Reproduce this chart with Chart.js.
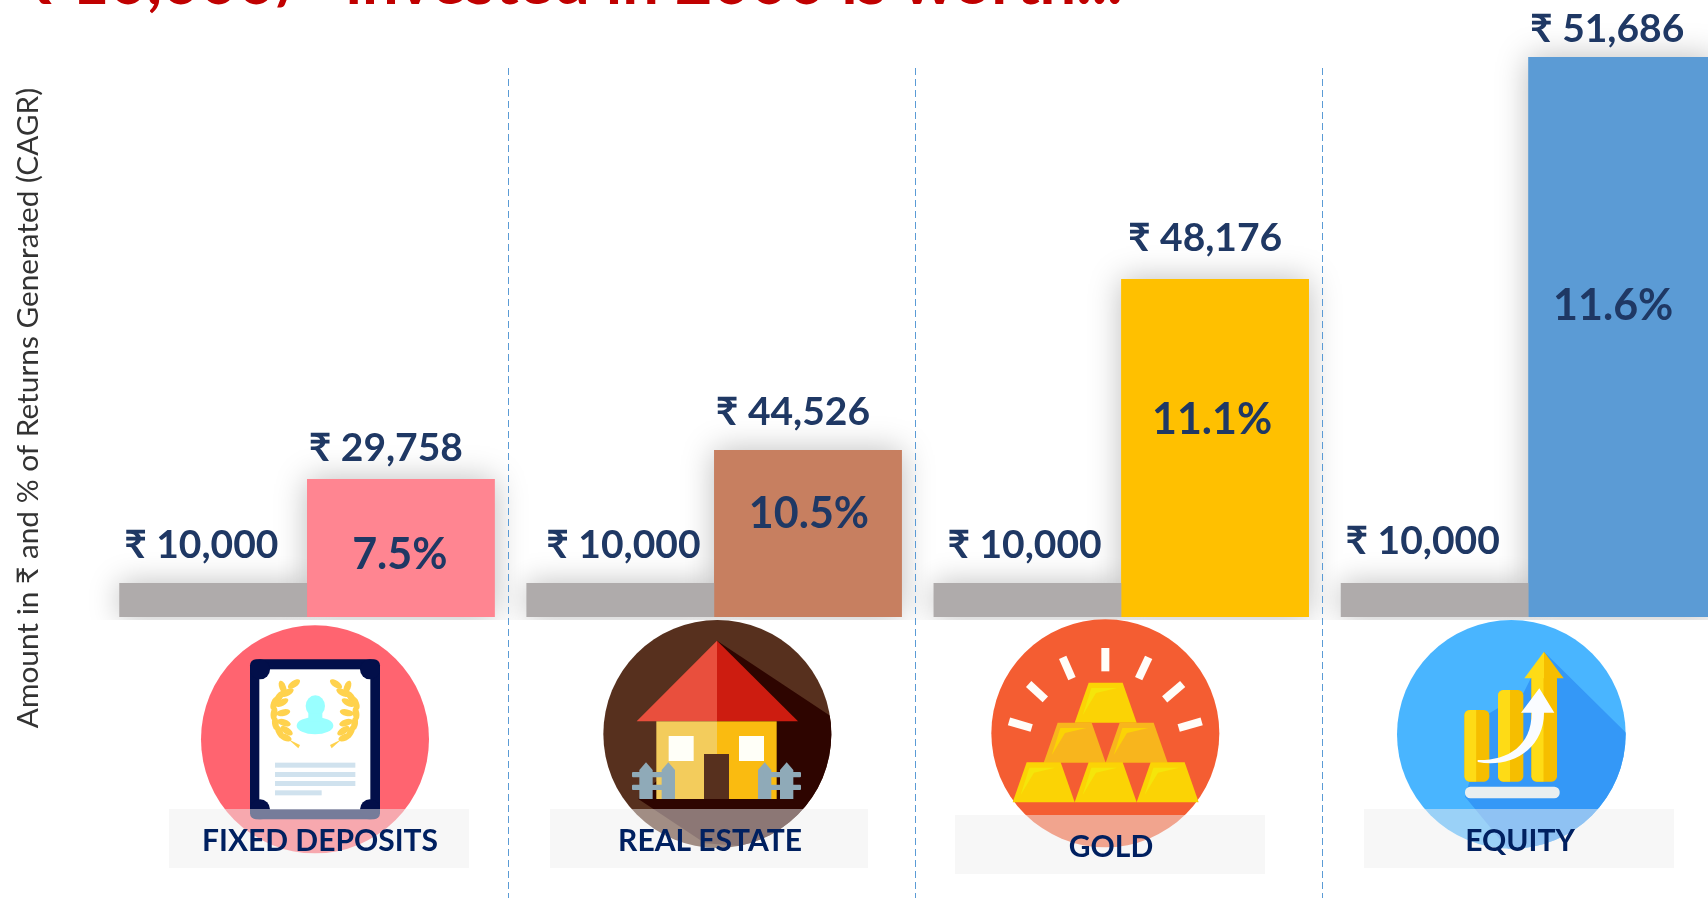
<!DOCTYPE html>
<html>
<head>
<meta charset="utf-8">
<title>Returns by asset class</title>
<script src="https://cdn.jsdelivr.net/npm/chart.js@4/dist/chart.umd.min.js"></script>
<style>
html,body{margin:0;padding:0;background:#fff;overflow:hidden;width:1708px;height:898px}
canvas{display:block}
</style>
</head>
<body>
<canvas id="c" width="1732" height="898" style="width:1732px;height:898px"></canvas>
<script>
// ---- data ----
const categories = ['FIXED DEPOSITS', 'REAL ESTATE', 'GOLD', 'EQUITY'];
const invested = [10000, 10000, 10000, 10000];
const worth = [29758, 44526, 48176, 51686];
const cagr = [7.5, 10.5, 11.1, 11.6];
const barColors = ['#FF8591', '#C77F60', '#FFC000', '#5B9BD5'];
const titleText = '₹ 10,000/- invested in 2000 is worth...';
const axisTitle = 'Amount in ₹ and % of Returns Generated (CAGR)';

// The source is a hand-adjusted infographic: bar heights are not proportional
// to the labels. This monotonic value -> pixel table reproduces its drawn scale.
const scaleValues = [0, 10000, 29758, 44526, 48176, 51686, 54000];
const scalePixels = [617, 583, 479, 450, 279, 57, 0];

class DrawnScale extends Chart.LinearScale {
  getPixelForValue(v) {
    for (let i = 1; i < scaleValues.length; i++) {
      if (v <= scaleValues[i]) {
        const t = (v - scaleValues[i - 1]) / (scaleValues[i] - scaleValues[i - 1]);
        return scalePixels[i - 1] + t * (scalePixels[i] - scalePixels[i - 1]);
      }
    }
    return scalePixels[scalePixels.length - 1];
  }
}
DrawnScale.id = 'drawn';
DrawnScale.defaults = Chart.LinearScale.defaults;
Chart.register(DrawnScale);

// ---- label placement relative to each bar ----
const investedDx = [-12, 3, -3, -12], investedDy = [-25, -25, -25, -29];
const worthDx = [-15, -15, -10, -15], worthDy = [-18, -25, -28, -15];
const pctDx = [-1, 1, -3, -9], pctDy = [76, 64, 141, 249];
const boxes = [[169, 809, 300, 59], [550, 809, 318, 59], [955, 815, 310, 59], [1364, 809, 310, 59]];
const catX = [320, 710, 1111, 1520], catY = [851, 851, 857, 851];

function poly(ctx, pts, fill) {
  ctx.beginPath();
  pts.forEach((p, i) => i ? ctx.lineTo(p[0], p[1]) : ctx.moveTo(p[0], p[1]));
  ctx.closePath();
  ctx.fillStyle = fill;
  ctx.fill();
}
function rr(ctx, x, y, w, h, r, fill) {
  ctx.beginPath();
  ctx.roundRect(x, y, w, h, r);
  ctx.fillStyle = fill;
  ctx.fill();
}
function disc(ctx, cx, cy, r, fill) {
  ctx.beginPath();
  ctx.arc(cx, cy, r, 0, Math.PI * 2);
  ctx.fillStyle = fill;
  ctx.fill();
}
function withIcon(ctx, ox, oy, fn) {
  ctx.save();
  ctx.translate(ox, oy);
  ctx.scale(1 / 3, 1 / 3);
  fn();
  ctx.restore();
}

function iconFD(ctx) {
  withIcon(ctx, 90, 420, () => {
    disc(ctx, 675, 958, 342, '#FF6470');
    rr(ctx, 480, 718, 390, 480, 18, '#020F4A');
    ctx.fillStyle = '#fff';
    ctx.fillRect(508, 748, 333, 420);
    [[510, 748], [840, 748], [510, 1168], [840, 1168]].forEach(p => disc(ctx, p[0], p[1], 30, '#020F4A'));
    // laurels
    const leaf = (x, y, a) => {
      ctx.save(); ctx.translate(x, y); ctx.rotate(a);
      ctx.beginPath(); ctx.ellipse(0, 0, 21, 10, 0, 0, 7);
      ctx.fillStyle = '#FFD24D'; ctx.fill(); ctx.restore();
    };
    const left = [[612, 792, -.6], [592, 818, -.5], [578, 802, 1.2], [568, 830, -.9], [576, 848, -.5], [553, 850, -1.2],
      [580, 878, -.2], [552, 880, -1.4], [582, 908, .3], [556, 910, -1.7], [590, 932, .6], [568, 935, -2.0], [585, 952, .4]];
    left.forEach(l => {
      leaf(l[0], l[1], l[2]);
      leaf(1350 - l[0], l[1], -l[2]);
    });
    poly(ctx, [[595, 958], [630, 975], [625, 985]], '#FFD24D');
    poly(ctx, [[755, 958], [720, 975], [725, 985]], '#FFD24D');
    // portrait
    ctx.beginPath(); ctx.ellipse(676, 858, 29, 32, 0, 0, 7); ctx.fillStyle = '#99FFFF'; ctx.fill();
    ctx.beginPath(); ctx.ellipse(675, 917, 55, 26, 0, 0, 7); ctx.fill();
    ctx.fillRect(655, 880, 42, 25);
    // text lines
    ctx.fillStyle = '#D0E2EE';
    ctx.fillRect(555, 1028, 241, 15);
    ctx.fillRect(555, 1056, 241, 15);
    ctx.fillRect(555, 1083, 241, 15);
    ctx.fillRect(555, 1111, 140, 15);
  });
}
function iconHouse(ctx) {
  withIcon(ctx, 570, 600, () => {
    ctx.save();
    ctx.beginPath(); ctx.arc(442, 402, 342, 0, 7); ctx.clip();
    ctx.fillStyle = '#57301E'; ctx.fillRect(90, 50, 710, 710);
    poly(ctx, [[441, 122], [800, 360], [800, 760], [405, 730], [205, 597], [441, 364]], '#2E0500');
    ctx.restore();
    poly(ctx, [[441, 122], [441, 364], [200, 364]], '#E94F3D');
    poly(ctx, [[441, 122], [684, 364], [441, 364]], '#CD1C10');
    ctx.fillStyle = '#F3CC5C'; ctx.fillRect(259, 364, 182, 233);
    ctx.fillStyle = '#FABB10'; ctx.fillRect(441, 364, 179, 233);
    ctx.fillStyle = '#FFFFF8'; ctx.fillRect(296, 408, 75, 75); ctx.fillRect(507, 408, 75, 75);
    ctx.fillStyle = '#57301E'; ctx.fillRect(402, 462, 75, 135);
    const pick = (x) => poly(ctx, [[x, 510], [x + 20, 487], [x + 40, 510], [x + 40, 597], [x, 597]], '#8FAAB8');
    [208, 275, 564, 630].forEach(pick);
    rr(ctx, 186, 516, 120, 16, 3, '#8FAAB8'); rr(ctx, 186, 554, 120, 16, 3, '#8FAAB8');
    rr(ctx, 580, 516, 113, 16, 3, '#8FAAB8'); rr(ctx, 580, 554, 113, 16, 3, '#8FAAB8');
  });
}
function iconGold(ctx) {
  withIcon(ctx, 950, 600, () => {
    disc(ctx, 466, 400, 342, '#F45D32');
    ctx.strokeStyle = '#FFFDF8'; ctx.lineWidth = 24; ctx.lineCap = 'butt';
    [[466, 144, 466, 214], [338, 172, 366, 236], [236, 252, 286, 298], [177, 364, 245, 384],
     [596, 172, 566, 236], [698, 252, 644, 298], [755, 364, 686, 384]].forEach(s => {
      ctx.beginPath(); ctx.moveTo(s[0], s[1]); ctx.lineTo(s[2], s[3]); ctx.stroke();
    });
    const bar = (dx, dy, main, hi) => {
      poly(ctx, [[230 + dx, 487 + dy], [332 + dx, 487 + dy], [374 + dx, 607 + dy], [188 + dx, 607 + dy]], main);
      poly(ctx, [[238 + dx, 503 + dy], [316 + dx, 503 + dy], [252 + dx, 518 + dy], [212 + dx, 585 + dy]], hi);
    };
    bar(186, -239, '#FBD305', '#F5E50A');
    bar(93, -119, '#F8B51D', '#FBD305');
    bar(279, -119, '#F8B51D', '#FBD305');
    bar(0, 0, '#FBD305', '#F5E50A');
    bar(186, 0, '#FBD305', '#F5E50A');
    bar(372, 0, '#FBD305', '#F5E50A');
  });
}
function iconEquity(ctx) {
  withIcon(ctx, 1360, 600, () => {
    ctx.save();
    ctx.beginPath(); ctx.arc(454, 403, 343, 0, 7); ctx.clip();
    ctx.fillStyle = '#49B5FF'; ctx.fillRect(100, 50, 710, 710);
    poly(ctx, [[552, 155], [810, 410], [810, 760], [455, 760], [315, 590], [388, 340], [490, 280]], '#3498F7');
    ctx.restore();
    const col = (x, y, w) => {
      rr(ctx, x, y, w, 545 - y, 16, '#F6BE00');
      ctx.save(); ctx.beginPath(); ctx.rect(x, y, w / 2 - 2, 545 - y); ctx.clip();
      rr(ctx, x, y, w, 545 - y, 16, '#FEDB16'); ctx.restore();
    };
    col(313, 330, 75);
    col(414, 270, 76);
    col(514, 220, 77);
    poly(ctx, [[552, 155], [552, 235], [493, 235]], '#FEDB16');
    poly(ctx, [[552, 155], [611, 235], [552, 235]], '#F6BE00');
    rr(ctx, 315, 560, 284, 35, 16, '#E9EFF0');
    ctx.beginPath();
    ctx.moveTo(353, 480);
    ctx.bezierCurveTo(440, 482, 515, 440, 515, 338);
    ctx.lineTo(483, 338); ctx.lineTo(538, 265); ctx.lineTo(583, 338); ctx.lineTo(552, 338);
    ctx.bezierCurveTo(552, 450, 450, 505, 353, 486);
    ctx.closePath();
    ctx.fillStyle = '#FAFCFF'; ctx.fill();
  });
}

// Soft glow under every bar, painted once before the crisp bars so that
// neighbouring bars do not shade each other.
const barShadow = {
  id: 'barShadow',
  beforeDatasetsDraw(chart) {
    const ctx = chart.ctx;
    ctx.save();
    ctx.beginPath(); ctx.rect(0, 0, chart.width, 620); ctx.clip();
    ctx.shadowColor = 'rgba(0,0,0,0.26)';
    ctx.shadowBlur = 30;
    chart.getSortedVisibleDatasetMetas().forEach(m => m.data.forEach(el => el.draw(ctx)));
    ctx.restore();
  }
};

const decorations = {
  id: 'decorations',
  afterDraw(chart) {
    const ctx = chart.ctx, x = chart.scales.x;
    ctx.save();
    // title, cropped by the top of the page as in the source
    ctx.font = 'bold 65px "Lato","Noto Sans"';
    ctx.fillStyle = '#C00000';
    ctx.textAlign = 'left'; ctx.textBaseline = 'alphabetic';
    ctx.fillText(titleText, 18, 4);

    [iconFD, iconHouse, iconGold, iconEquity].forEach(f => f(ctx));

    // separators
    ctx.strokeStyle = '#5B9BD5'; ctx.lineWidth = 1; ctx.setLineDash([7, 4]);
    for (let i = 0; i < categories.length - 1; i++) {
      const px = Math.round(x.getPixelForValue(i) + 200.5) + 0.5;
      ctx.beginPath(); ctx.moveTo(px, 68); ctx.lineTo(px, 898); ctx.stroke();
    }
    ctx.setLineDash([]);

    // category captions on translucent plates
    ctx.textAlign = 'center';
    categories.forEach((c, i) => {
      const b = boxes[i];
      ctx.fillStyle = 'rgba(239,239,239,0.49)';
      ctx.fillRect(b[0], b[1], b[2], b[3]);
      ctx.fillStyle = '#002060';
      ctx.font = 'bold 30px "Lato","Noto Sans"';
      ctx.fillText(c, catX[i], catY[i]);
    });

    // value labels
    const a = chart.getDatasetMeta(0).data, w = chart.getDatasetMeta(1).data;
    ctx.fillStyle = '#1F3864';
    ctx.font = 'bold 39px "Lato","Noto Sans"';
    invested.forEach((v, i) => {
      ctx.fillText('₹ ' + v.toLocaleString('en-US'), a[i].x + investedDx[i], a[i].y + investedDy[i]);
    });
    worth.forEach((v, i) => {
      ctx.fillText('₹ ' + v.toLocaleString('en-US'), w[i].x + worthDx[i], w[i].y + worthDy[i]);
    });
    ctx.textBaseline = 'middle';
    ctx.font = 'bold 43px "Lato","Noto Sans"';
    cagr.forEach((v, i) => {
      ctx.fillText(v.toFixed(1) + '%', w[i].x + pctDx[i], w[i].y + pctDy[i]);
    });
    ctx.restore();
  }
};

new Chart(document.getElementById('c'), {
  type: 'bar',
  data: {
    labels: categories,
    datasets: [
      { label: 'Invested', data: invested, backgroundColor: '#AFABAB', clip: false },
      { label: 'Worth', data: worth, backgroundColor: barColors, clip: false }
    ]
  },
  plugins: [barShadow, decorations],
  options: {
    responsive: false,
    animation: false,
    layout: { padding: { left: 0, right: 0, top: 0, bottom: 82 } },
    plugins: { legend: { display: false }, title: { display: false }, tooltip: { enabled: false } },
    datasets: { bar: { categoryPercentage: 375 / 407, barPercentage: 1, borderWidth: 0 } },
    scales: {
      x: { display: false, grid: { display: false } },
      y: {
        type: 'drawn',
        min: 0,
        max: 54000,
        grid: { display: false },
        border: { display: false },
        ticks: { display: false },
        afterFit(s) { s.width = 103.5; },
        title: {
          display: true,
          text: axisTitle,
          color: '#333333',
          font: { family: 'Lato', size: 29.8, weight: 'normal' },
          padding: { top: 11, bottom: 0 }
        }
      }
    }
  }
});
</script>
</body>
</html>
